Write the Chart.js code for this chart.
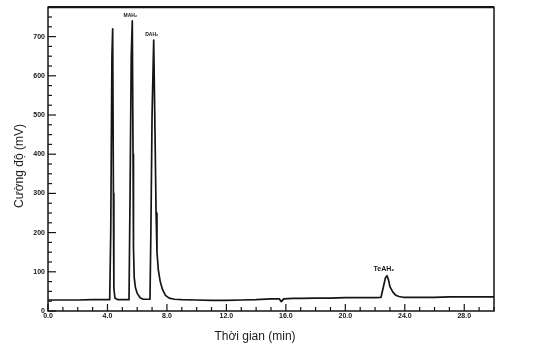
<!DOCTYPE html>
<html>
<head>
<meta charset="utf-8">
<script src="https://cdn.jsdelivr.net/npm/chart.js@4/dist/chart.umd.min.js"></script>
<style>
  html, body { margin: 0; padding: 0; background: #fff; }
  #c { display: block; }
</style>
</head>
<body>
<canvas id="c" width="535" height="353"></canvas>
<script>
// ---- data ----
const timeMin = [0.0, 1.0, 2.0, 3.0, 4.0, 4.15, 4.22, 4.3, 4.35, 4.4, 4.43, 4.5, 4.7,
  5.0, 5.45, 5.52, 5.6, 5.67, 5.72, 5.75, 5.8, 5.88, 6.0, 6.2, 6.4,
  6.7, 6.86, 6.92, 7.0, 7.11, 7.2, 7.27, 7.33, 7.42, 7.55, 7.7, 7.9, 8.15, 8.5,
  9.0, 10.0, 11.0, 12.0, 13.0, 14.0, 15.0, 15.55, 15.7, 15.85, 16.5, 17.0, 18.0, 19.0, 20.0, 21.0, 22.0, 22.4,
  22.55, 22.7, 22.8, 22.9, 23.0, 23.2, 23.4, 23.6, 23.9, 25.0, 26.0, 27.0, 28.0, 29.0, 30.0];
const intensityMv = [28, 28, 28, 29, 29, 29, 200, 650, 720, 300, 60, 33, 29,
  29, 29, 300, 650, 740, 400, 160, 85, 60, 45, 34, 30,
  30, 30, 200, 500, 691, 450, 250, 150, 105, 75, 55, 40, 33, 30,
  29, 28, 27, 27, 28, 29, 31, 31, 24, 31, 32, 32, 33, 33, 34, 34, 34, 35,
  60, 85, 90, 80, 62, 48, 40, 37, 35, 35, 35, 36, 36, 36, 36];
const xTickValues = [0, 4, 8, 12, 16, 20, 24, 28];
const yTickValues = [0, 100, 200, 300, 400, 500, 600, 700];
const xMinorStep = 1;
const yMinorStep = 25;
const peakNames = ["MAH\u2082", "DAH\u2082", "TeAH\u2082"];
const peakTimes = [5.67, 7.11, 22.8];
const peakHeights = [740, 691, 90];
const xTitle = "Thời gian (min)";
const yTitle = "Cường độ (mV)";

const ink = '#151515';

const decor = {
  id: 'decor',
  beforeDraw(chart) {
    const ctx = chart.ctx;
    ctx.save();
    ctx.fillStyle = '#fff';
    ctx.fillRect(0, 0, chart.width, chart.height);
    ctx.restore();
  },
  afterDraw(chart) {
    const ctx = chart.ctx;
    const a = chart.chartArea;
    const xs = chart.scales.x, ys = chart.scales.y;
    ctx.save();
    ctx.strokeStyle = ink;
    // frame
    ctx.lineWidth = 1.5;
    ctx.strokeRect(a.left, a.top, a.right - a.left, a.bottom - a.top);
    ctx.lineWidth = 2.2;
    ctx.beginPath(); ctx.moveTo(a.left, a.top); ctx.lineTo(a.right, a.top); ctx.stroke();
    // x ticks (inside, pointing up)
    ctx.lineWidth = 1.2;
    for (let v = xs.min; v <= xs.max + 1e-9; v += xMinorStep) {
      const px = xs.getPixelForValue(v);
      const major = xTickValues.includes(v);
      ctx.beginPath();
      ctx.moveTo(px, a.bottom);
      ctx.lineTo(px, a.bottom - (major ? 7 : 4));
      ctx.stroke();
    }
    // y ticks (inside, pointing right)
    for (let v = 0; v <= ys.max; v += yMinorStep) {
      const py = ys.getPixelForValue(v);
      const major = yTickValues.includes(v);
      ctx.beginPath();
      ctx.moveTo(a.left, py);
      ctx.lineTo(a.left + (major ? 8 : 4), py);
      ctx.stroke();
    }
    // peak labels
    ctx.fillStyle = ink;
    ctx.textAlign = 'center';
    ctx.textBaseline = 'bottom';
    peakNames.forEach((n, i) => {
      const px = xs.getPixelForValue(peakTimes[i]);
      const py = ys.getPixelForValue(peakHeights[i]);
      if (i === 2) {
        ctx.font = 'bold 7px "Liberation Sans", Arial, sans-serif';
        ctx.fillText(n, px - 3, py - 3);
      } else {
        ctx.font = 'bold 5px "Liberation Sans", Arial, sans-serif';
        ctx.fillText(n, px - 2, py - 3);
      }
    });
    // axis titles
    ctx.fillStyle = '#1a1a1a';
    ctx.font = '12px "Liberation Sans", Arial, sans-serif';
    ctx.textAlign = 'center';
    ctx.textBaseline = 'middle';
    ctx.fillText(xTitle, 255, 337);
    ctx.translate(20, 166);
    ctx.rotate(-Math.PI / 2);
    ctx.fillText(yTitle, 0, 0);
    ctx.restore();
  }
};

new Chart(document.getElementById('c'), {
  type: 'line',
  data: {
    datasets: [{
      data: timeMin.map((t, i) => ({ x: t, y: intensityMv[i] })),
      borderColor: ink,
      borderWidth: 1.7,
      borderJoinStyle: 'round',
      borderCapStyle: 'round',
      pointRadius: 0,
      tension: 0,
      fill: false
    }]
  },
  options: {
    responsive: false,
    animation: false,
    devicePixelRatio: 1,
    layout: { padding: { left: 0, right: 41, top: 7, bottom: 0 } },
    plugins: { legend: { display: false }, tooltip: { enabled: false } },
    scales: {
      x: {
        type: 'linear',
        min: 0, max: 30,
        afterBuildTicks: s => { s.ticks = xTickValues.map(v => ({ value: v })); },
        afterFit: s => { s.height = 42; },
        grid: { display: false, drawTicks: false },
        border: { display: false },
        ticks: {
          padding: 1,
          maxRotation: 0,
          autoSkip: false,
          color: ink,
          font: { family: '"Liberation Sans", Arial, sans-serif', size: 7, weight: 'bold' },
          callback: v => Number(v).toFixed(1)
        }
      },
      y: {
        type: 'linear',
        min: 0, max: 775,
        afterBuildTicks: s => { s.ticks = yTickValues.map(v => ({ value: v })); },
        afterFit: s => { s.width = 48; },
        grid: { display: false, drawTicks: false },
        border: { display: false },
        ticks: {
          padding: 3,
          autoSkip: false,
          color: ink,
          font: { family: '"Liberation Sans", Arial, sans-serif', size: 7, weight: 'bold' },
          callback: v => String(v)
        }
      }
    }
  },
  plugins: [decor]
});
</script>
</body>
</html>
